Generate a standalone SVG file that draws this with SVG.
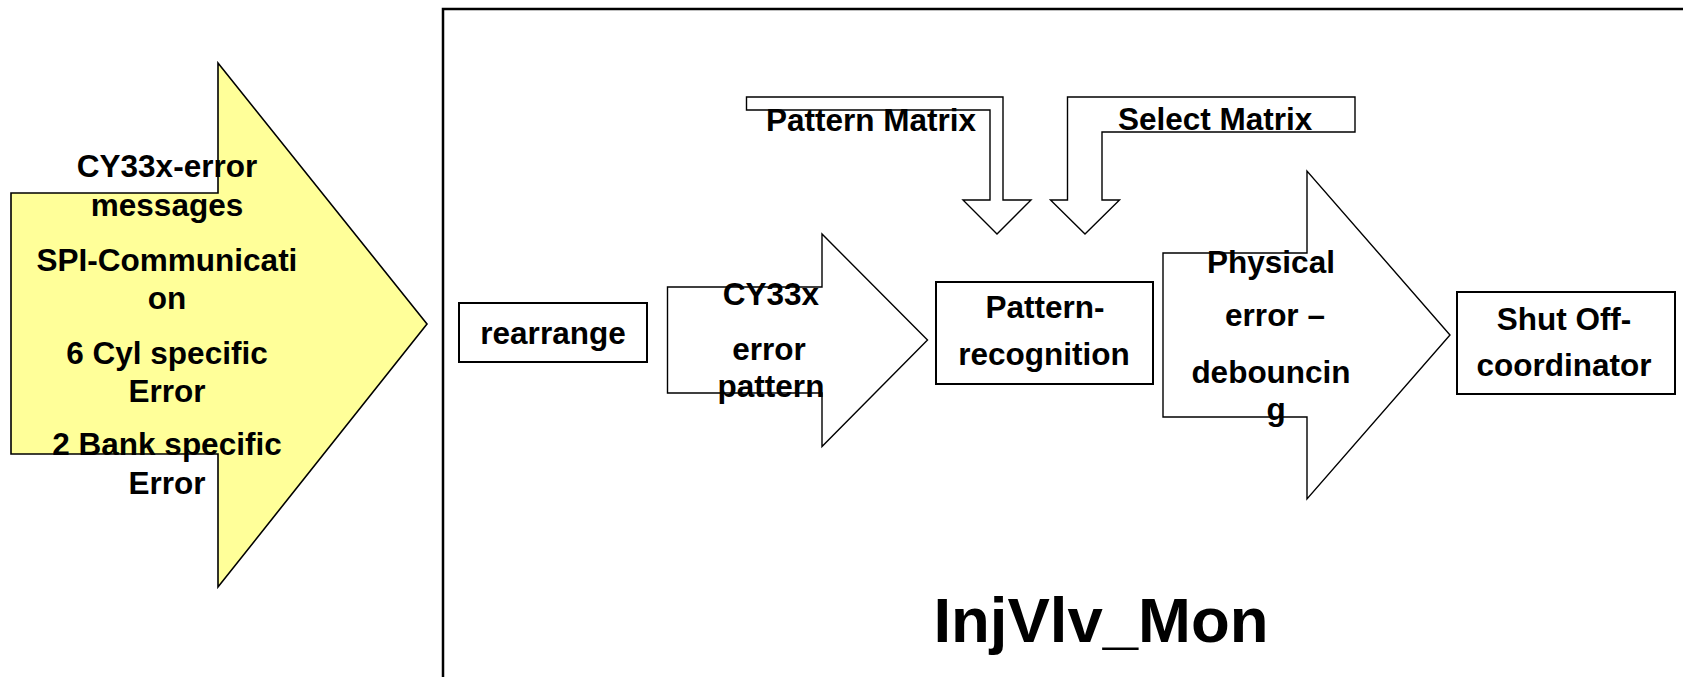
<svg xmlns="http://www.w3.org/2000/svg" width="1683" height="677" viewBox="0 0 1683 677">
<style>
  .t { font-family: "Liberation Sans", Arial, sans-serif; font-weight: bold; font-size: 31.5px; fill: #000; }
  .m { text-anchor: middle; }
  .shape { fill: #fff; stroke: #000; stroke-width: 1.4; stroke-linejoin: miter; }
  .box { fill: #fff; stroke: #000; stroke-width: 2; }
  .yellow { fill: #FFFF99; stroke: #000; stroke-width: 1.6; }
</style>
<rect width="1683" height="677" fill="#fff"/>

<g id="frame">
  <rect x="443" y="9" width="1400" height="800" fill="none" stroke="#000" stroke-width="2.5"/>
  <text class="t m" x="1101" y="642" style="font-size:63.5px">InjVlv_Mon</text>
</g>

<g id="connectors">
  <g id="input-arrow">
    <polygon class="yellow" points="11,193 218,193 218,63 427,324 218,587 218,454 11,454"/>
    <text class="t m" x="167" y="177">CY33x-error</text>
    <text class="t m" x="167" y="216">messages</text>
    <text class="t m" x="167" y="271">SPI-Communicati</text>
    <text class="t m" x="167" y="309">on</text>
    <text class="t m" x="167" y="364">6 Cyl specific</text>
    <text class="t m" x="167" y="402">Error</text>
    <text class="t m" x="167" y="455">2 Bank specific</text>
    <text class="t m" x="167" y="494">Error</text>
  </g>
  <g id="cy33x-arrow">
    <polygon class="shape" points="667.5,287 822,287 822,234 927.5,340 822,446.5 822,393 667.5,393"/>
    <text class="t m" x="771" y="305">CY33x</text>
    <text class="t m" x="769" y="360">error</text>
    <text class="t m" x="771" y="397">pattern</text>
  </g>
  <g id="pattern-matrix-arrow">
    <polygon class="shape" points="746.5,97 1003,97 1003,200 1031,200 997,234 963,200 990,200 990,110 746.5,110"/>
    <text class="t" x="766" y="131">Pattern Matrix</text>
  </g>
  <g id="select-matrix-arrow">
    <polygon class="shape" points="1355,97 1067.5,97 1067.5,200 1050.5,200 1085,234 1119.5,200 1102,200 1102,132 1355,132"/>
    <text class="t" x="1118" y="130">Select Matrix</text>
  </g>
  <g id="debounce-arrow">
    <polygon class="shape" points="1163,253 1307,253 1307,171 1450,335 1307,499 1307,417 1163,417"/>
    <text class="t m" x="1271" y="273">Physical</text>
    <text class="t m" x="1275" y="326">error –</text>
    <text class="t m" x="1271" y="383">debouncin</text>
    <text class="t m" x="1276" y="420">g</text>
  </g>
</g>

<g id="rearrange">
  <rect class="box" x="459" y="303" width="188" height="59"/>
  <text class="t m" x="553" y="344">rearrange</text>
</g>

<g id="pattern-recognition">
  <rect class="box" x="936" y="282" width="217" height="102"/>
  <text class="t m" x="1045" y="318">Pattern-</text>
  <text class="t m" x="1044" y="365">recognition</text>
</g>

<g id="shut-off-coordinator">
  <rect class="box" x="1457" y="292" width="218" height="102"/>
  <text class="t m" x="1564" y="330">Shut Off-</text>
  <text class="t m" x="1564" y="376">coordinator</text>
</g>
</svg>
